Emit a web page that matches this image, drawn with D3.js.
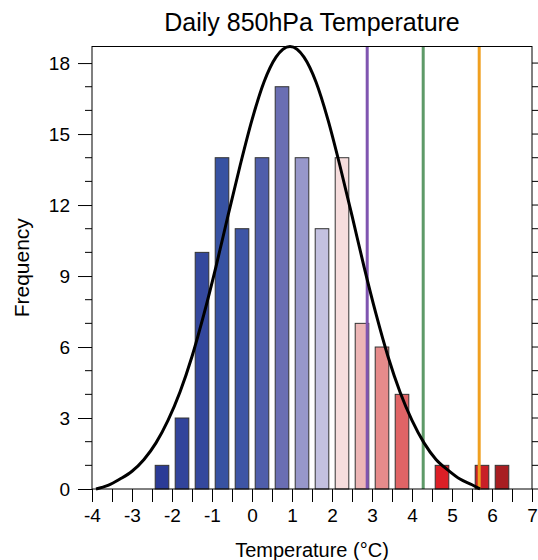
<!DOCTYPE html>
<html>
<head>
<meta charset="utf-8">
<script src="https://cdn.jsdelivr.net/npm/d3@7.9.0/dist/d3.min.js"></script>
<style>
  body { margin: 0; background: #fff; }
  svg { display: block; font-family: "Liberation Sans", Arial, sans-serif; }
</style>
</head>
<body>
<svg id="chart" width="538" height="560"></svg>
<script>
// --- histogram bins (bin centres, °C) and counts ---
const binCenters = [-2.25, -1.75, -1.25, -0.75, -0.25, 0.25, 0.75, 1.25, 1.75,
                    2.25, 2.75, 3.25, 3.75, 4.75, 5.75, 6.25];
const counts = [1, 3, 10, 14, 11, 14, 17, 14, 11, 14, 7, 6, 4, 1, 1, 1];
const barColors = ['#2b3b96', '#32449b', '#34489d', '#3752a2', '#3e55a5', '#4f5eab',
                   '#6a6eb3', '#9797ca', '#c3c1e0', '#f6dddd', '#ecb6b6', '#e68b8b',
                   '#e06466', '#dc1f26', '#c81f27', '#a81e22'];

// --- fitted curve ---
const curveX = [-3.9, -3.6, -3.3, -3.0, -2.7, -2.4, -2.1, -1.8, -1.5, -1.2, -0.9, -0.6,
                -0.3, 0.0, 0.3, 0.6, 0.95, 1.3, 1.6, 1.9, 2.2, 2.5, 2.8, 3.1, 3.4,
                3.7, 4.0, 4.3, 4.6, 4.9, 5.2, 5.5, 5.7];
const curveY = [0.0, 0.15, 0.42, 0.75, 1.25, 1.95, 2.9, 4.1, 5.6, 7.4, 9.4, 11.55,
                13.65, 15.6, 17.2, 18.25, 18.7, 18.25, 17.2, 15.6, 13.65, 11.55, 9.4,
                7.4, 5.6, 4.1, 2.9, 1.95, 1.25, 0.8, 0.42, 0.18, 0.0];

// --- reference lines ---
const refLines = [2.88, 4.28, 5.68];
const refColors = ['#7f55b0', '#5e9a68', '#f0a020'];

const xTicks = [-4, -3, -2, -1, 0, 1, 2, 3, 4, 5, 6, 7];
const yTicks = [0, 3, 6, 9, 12, 15, 18];

const margin = { top: 46.5, right: 6, bottom: 71, left: 92 };
const W = 538, H = 560;
const svg = d3.select('#chart');

const x = d3.scaleLinear().domain([-4, 7]).range([margin.left, W - margin.right]);
const y = d3.scaleLinear().domain([0, 18.7]).range([H - margin.bottom, margin.top]);

const barW = x(0.34) - x(0);

// bars
svg.append('g')
  .selectAll('rect')
  .data(binCenters)
  .join('rect')
  .attr('x', (d) => x(d) - barW / 2)
  .attr('y', (d, i) => y(counts[i]))
  .attr('width', barW)
  .attr('height', (d, i) => y(0) - y(counts[i]))
  .attr('fill', (d, i) => barColors[i])
  .attr('stroke', '#333')
  .attr('stroke-width', 1);

// vertical reference lines
svg.append('g')
  .selectAll('line')
  .data(refLines)
  .join('line')
  .attr('x1', (d) => x(d))
  .attr('x2', (d) => x(d))
  .attr('y1', y(18.7))
  .attr('y2', y(0))
  .attr('stroke', (d, i) => refColors[i])
  .attr('stroke-width', 3);

// curve
const line = d3.line()
  .x((d) => x(d[0]))
  .y((d) => y(d[1]))
  .curve(d3.curveMonotoneX);

svg.append('path')
  .datum(curveX.map((v, i) => [v, curveY[i]]))
  .attr('d', line)
  .attr('fill', 'none')
  .attr('stroke', '#000')
  .attr('stroke-width', 3);

// frame
svg.append('rect')
  .attr('x', x(-4))
  .attr('y', y(18.7))
  .attr('width', x(7) - x(-4))
  .attr('height', y(0) - y(18.7))
  .attr('fill', 'none')
  .attr('stroke', '#000')
  .attr('stroke-width', 1);

// bottom axis: ticks every 0.5
const xAxis = d3.axisBottom(x)
  .tickValues(d3.range(-4, 7.01, 0.5))
  .tickSize(13)
  .tickFormat((d) => (Number.isInteger(d) ? d3.format('d')(d).replace('−', '-') : ''));
const gx = svg.append('g')
  .attr('transform', `translate(0,${y(0)})`)
  .call(xAxis);
gx.select('.domain').remove();
gx.selectAll('.tick line').attr('stroke', '#000');
gx.selectAll('.tick text')
  .attr('y', 20)
  .attr('font-size', 19)
  .attr('fill', '#000');

// left axis: majors every 3, minors every 1
const yMinor = d3.range(0, 18.1, 1).filter((v) => v % 3 !== 0);
svg.append('g')
  .selectAll('line')
  .data(yMinor)
  .join('line')
  .attr('x1', x(-4) - 7)
  .attr('x2', x(-4))
  .attr('y1', (d) => y(d))
  .attr('y2', (d) => y(d))
  .attr('stroke', '#000');

const yAxis = d3.axisLeft(y).tickValues(yTicks).tickSize(14).tickPadding(8);
const gy = svg.append('g')
  .attr('transform', `translate(${x(-4)},0)`)
  .call(yAxis);
gy.select('.domain').remove();
gy.selectAll('.tick line').attr('stroke', '#000');
gy.selectAll('.tick text').attr('font-size', 19).attr('fill', '#000');

// right axis ticks (outward)
const yAll = d3.range(0, 18.1, 1);
svg.append('g')
  .selectAll('line')
  .data(yAll)
  .join('line')
  .attr('x1', x(7))
  .attr('x2', (d) => x(7) + (d % 3 === 0 ? 14 : 7))
  .attr('y1', (d) => y(d))
  .attr('y2', (d) => y(d))
  .attr('stroke', '#000');

// titles
svg.append('text')
  .attr('x', (x(-4) + x(7)) / 2)
  .attr('y', 31)
  .attr('text-anchor', 'middle')
  .attr('font-size', 25)
  .text('Daily 850hPa Temperature');

svg.append('text')
  .attr('x', (x(-4) + x(7)) / 2)
  .attr('y', 557)
  .attr('text-anchor', 'middle')
  .attr('font-size', 20)
  .text('Temperature (°C)');

svg.append('text')
  .attr('transform', `translate(29,${(y(0) + y(18.7)) / 2}) rotate(-90)`)
  .attr('text-anchor', 'middle')
  .attr('font-size', 21)
  .text('Frequency');
</script>
</body>
</html>
